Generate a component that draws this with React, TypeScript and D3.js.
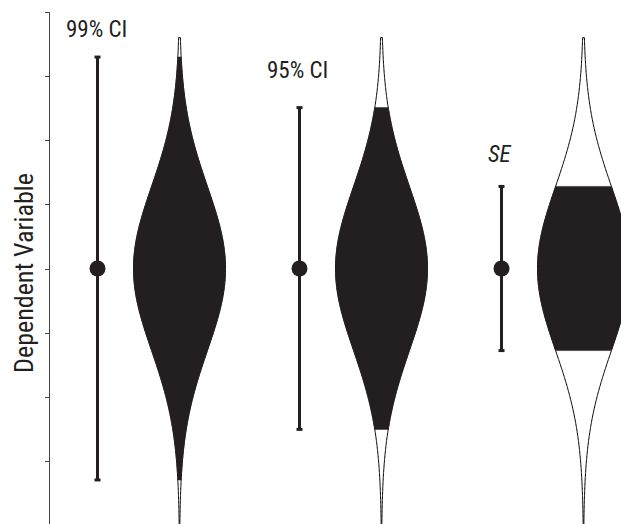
import React from "react";
import * as d3 from "d3";

const categories = ["99% CI", "95% CI", "SE"];
const italicLabel = [false, false, true];
const intervalMultipliers = [2.576, 1.96, 1];
const means = [0, 0, 0];
const sds = [1.28, 1.28, 1.28];
const violinExtent = [-4.2, 3.6];
const yTicks = [-3, -2, -1, 0, 1, 2, 3, 4];
const yLabel = "Dependent Variable";

const W = 621;
const H = 524;
const INK = "#231f20";
const FONT = "'Liberation Sans Narrow', 'Arial Narrow', 'Roboto Condensed', sans-serif";

export default function App() {
  const y = d3.scaleLinear().domain([-4, 4]).range([525, 12]);
  const groupX = d3.scaleLinear().domain([0, 1]).range([97.5, 299.5]);
  const violinOffset = 82;
  const maxHalf = 46;

  const dens = (z: number) => Math.exp(-0.5 * z * z);

  return (
    <svg width={W} height={H} style={{ position: "absolute", left: 0, top: 0, display: "block", background: "#fff" }}>
      {/* axis */}
      <line x1={49.5} x2={49.5} y1={y(4)} y2={H} stroke="#444" strokeWidth={1} />
      {yTicks.map((t) => (
        <line key={t} x1={45} x2={49.5} y1={Math.round(y(t)) + 0.5} y2={Math.round(y(t)) + 0.5} stroke="#444" strokeWidth={1} />
      ))}
      <text
        transform={`translate(33, 273) rotate(-90)`}
        textAnchor="middle"
        fontFamily={FONT}
        fontSize={26}
        fill={INK}
      >
        {yLabel}
      </text>
      {categories.map((c, i) => {
        const cx = groupX(i);
        const vx = cx + violinOffset;
        const m = means[i];
        const sd = sds[i];
        const k = intervalMultipliers[i];
        const lo = m - k * sd;
        const hi = m + k * sd;
        const full = d3.range(violinExtent[0], violinExtent[1] + 1e-9, 0.02);
        const shade = d3.range(lo, hi + 1e-9, (hi - lo) / 300);
        const area = d3
          .area<number>()
          .y((v) => y(v))
          .x0((v) => vx - maxHalf * dens((v - m) / sd))
          .x1((v) => vx + maxHalf * dens((v - m) / sd));
        const labelPos = [
          { x: 66, y: 37 },
          { x: 267, y: 78 },
          { x: 488, y: 162 },
        ][i];
        return (
          <g key={c}>
            <path d={area(full) || ""} fill="#fff" stroke="#000" strokeWidth={1} />
            <path d={area(shade) || ""} fill={INK} stroke={INK} strokeWidth={0.5} />
            <line x1={cx} x2={cx} y1={y(hi)} y2={y(lo)} stroke={INK} strokeWidth={3} />
            <line x1={cx - 3} x2={cx + 3} y1={y(hi)} y2={y(hi)} stroke={INK} strokeWidth={3} />
            <line x1={cx - 3} x2={cx + 3} y1={y(lo)} y2={y(lo)} stroke={INK} strokeWidth={3} />
            <circle cx={cx} cy={y(m)} r={8} fill={INK} />
            <text
              x={labelPos.x}
              y={labelPos.y}
              fontFamily={FONT}
              fontSize={23}
              fontStyle={italicLabel[i] ? "italic" : "normal"}
              fill={INK}
            >
              {c}
            </text>
          </g>
        );
      })}
    </svg>
  );
}
